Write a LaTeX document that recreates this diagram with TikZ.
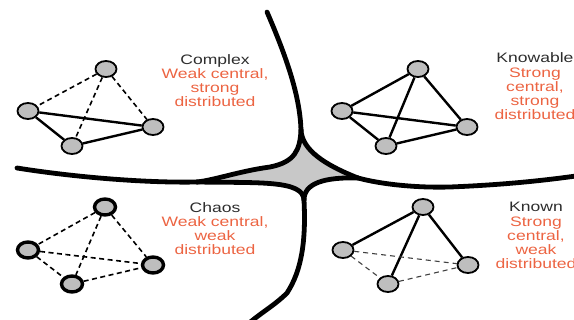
\documentclass[tikz,border=0pt]{standalone}
\usepackage{fontspec}
\setmainfont[FakeStretch=1.28]{Liberation Sans}
\usetikzlibrary{shapes.geometric}
\definecolor{lbl}{RGB}{236,100,66}
\definecolor{ttl}{RGB}{45,45,45}
\definecolor{nodegray}{RGB}{190,190,190}
\definecolor{stargray}{RGB}{200,200,200}
\begin{document}
\begin{tikzpicture}[x=1pt,y=-1pt,
 vert/.style={ellipse, draw, fill=nodegray, line width=1.8pt, minimum width=21pt, minimum height=16pt, inner sep=0pt},
 vertb/.style={vert, line width=3.4pt},
 strongedge/.style={line width=2.4pt},
 weakedge/.style={line width=1.6pt, dash pattern=on 5pt off 3.5pt},
 weakthin/.style={line width=1.1pt, dash pattern=on 5pt off 4pt, draw=black!75},
 lab/.style={align=center, font=\fontsize{13.7}{14.3}\selectfont, text=lbl, inner sep=0pt, anchor=base},
 border/.style={line width=4.8pt, line cap=round}]
\useasboundingbox (0,0) rectangle (574,320);
\begin{scope}
\clip (0,0) rectangle (574,320);
\coordinate (T) at (301,130);
\coordinate (L) at (197,182);
\coordinate (B) at (304,200);
\coordinate (R) at (358,178);
\coordinate (TopEnd) at (267,12);
\coordinate (LeftEnd) at (17,168);
\coordinate (RightEnd) at (576,176);
\coordinate (BotEnd) at (248,324);
\fill[stargray] (T) .. controls (300,150) and (295,162) .. (270,167) .. controls (240,171) and (215,180) .. (L)
  .. controls (260,183) and (303,180) .. (B) .. controls (304,183) and (325,177) .. (R)
  .. controls (325,165) and (302,150) .. (T) -- cycle;
\draw[border] (TopEnd) .. controls (290,65) and (300,100) .. (T);
\draw[border] (LeftEnd) .. controls (80,178) and (150,183) .. (L);
\draw[border] (R) .. controls (380,184) and (415,188) .. (450,187) .. controls (500,185) and (540,181) .. (RightEnd);
\draw[border] (B) .. controls (306,240) and (302,270) .. (287,293) .. controls (275,305) and (262,312) .. (BotEnd);
\draw[border] (T) .. controls (300,150) and (295,162) .. (270,167) .. controls (240,171) and (215,180) .. (L);
\draw[border] (L) .. controls (260,183) and (303,180) .. (B);
\draw[border] (B) .. controls (304,183) and (325,177) .. (R);
\draw[border] (R) .. controls (325,165) and (302,150) .. (T);
\end{scope}
% Complex
\node[vert] (c1) at (106,69) {};
\node[vert] (c2) at (28,111) {};
\node[vert] (c3) at (153,127) {};
\node[vert] (c4) at (72,146) {};
\draw[strongedge] (c2) -- (c3);
\draw[strongedge] (c2) -- (c4);
\draw[strongedge] (c4) -- (c3);
\draw[weakedge] (c1) -- (c2);
\draw[weakedge] (c1) -- (c4);
\draw[weakedge] (c1) -- (c3);
% Knowable
\node[vert] (k1) at (418,69) {};
\node[vert] (k2) at (342,111) {};
\node[vert] (k3) at (467,127) {};
\node[vert] (k4) at (386,146) {};
\draw[strongedge] (k1) -- (k2);
\draw[strongedge] (k1) -- (k4);
\draw[strongedge] (k1) -- (k3);
\draw[strongedge] (k2) -- (k3);
\draw[strongedge] (k2) -- (k4);
\draw[strongedge] (k4) -- (k3);
% Chaos
\node[vertb] (h1) at (105,207) {};
\node[vertb] (h2) at (28,250) {};
\node[vertb] (h3) at (153,265) {};
\node[vertb] (h4) at (72,284) {};
\draw[weakedge] (h1) -- (h2);
\draw[weakedge] (h1) -- (h4);
\draw[weakedge] (h1) -- (h3);
\draw[weakedge] (h2) -- (h3);
\draw[weakedge] (h2) -- (h4);
\draw[weakedge] (h4) -- (h3);
% Known
\node[vert] (n1) at (423,207) {};
\node[vert] (n2) at (343,250) {};
\node[vert] (n3) at (468,265) {};
\node[vert] (n4) at (388,284) {};
\draw[strongedge] (n1) -- (n2);
\draw[strongedge] (n1) -- (n4);
\draw[strongedge] (n1) -- (n3);
\draw[weakthin] (n2) -- (n3);
\draw[weakthin] (n2) -- (n4);
\draw[weakthin] (n4) -- (n3);
% labels
\node[lab] (tc) at (215,107) {{\color{ttl}Complex}\\Weak central,\\strong\\distributed};
\node[lab] (tk) at (535,120) {{\color{ttl}Knowable}\\Strong\\central,\\strong\\distributed};
\node[lab] (th) at (215,255) {{\color{ttl}Chaos}\\Weak central,\\weak\\distributed};
\node[lab] (tn) at (536,269) {{\color{ttl}Known}\\Strong\\central,\\weak\\distributed};
\end{tikzpicture}
\end{document}
